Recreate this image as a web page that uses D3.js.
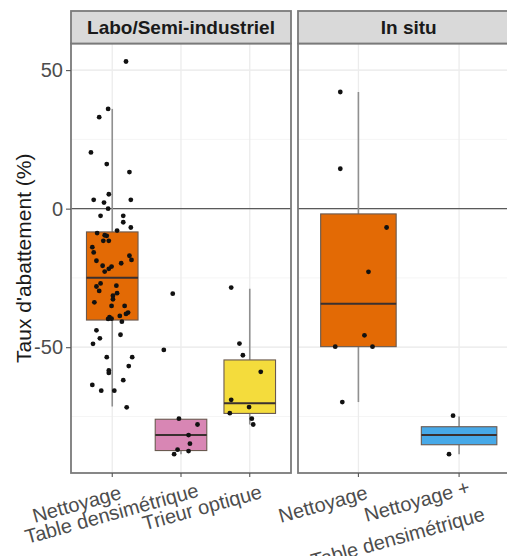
<!DOCTYPE html>
<html><head><meta charset="utf-8">
<script src="https://cdn.jsdelivr.net/npm/d3@7"></script>
<style>html,body{margin:0;padding:0;background:#fff;} svg{display:block;}</style>
</head><body>
<svg id="chart" width="507" height="556"></svg>
<script>
// ---------------- DATA ----------------
const panelNames = ["Labo/Semi-industriel", "In situ"];
const laboCategories = ["Nettoyage", "Table densimétrique", "Trieur optique"];
const inSituCategories = ["Nettoyage", "Nettoyage +\nTable densimétrique"];
const yTicks = [50, 0, -50];
const yMinorTicks = [25, -25, -75];
const yTitle = "Taux d'abattement (%)";

// box statistics (one entry per box)
const boxPanel      = [0, 0, 0, 1, 1];
const boxCategory   = ["Nettoyage", "Table densimétrique", "Trieur optique", "Nettoyage", "Nettoyage +\nTable densimétrique"];
const boxWhiskerLow = [-71.4, -88.6, -77.9, -69.8, -88.6];
const boxQ1         = [-40.2, -87.3, -73.9, -49.8, -85.2];
const boxMedian     = [-24.9, -81.7, -70.2, -34.3, -81.7];
const boxQ3         = [-8.4, -76.0, -54.6, -1.9, -78.7];
const boxWhiskerHigh= [36.0, -76.0, -28.9, 42.1, -75.0];

// individual (jittered) observations; jitter is in category units
const laboNettoyageValues = [53.1, 36.0, 33.0, 20.3, 16.1, 13.2, 5.2, 3.2, 3.2, 2.2, 0.0, -2.6, -2.6, -4.9, -6.8, -7.9, -8.8, -9.8, -9.6, -11.6, -11.6, -13.9, -15.8, -17.0, -18.5, -18.8, -19.7, -20.6, -20.9, -21.7, -22.7, -27.0, -28.1, -27.8, -29.7, -31.4, -30.5, -32.7, -33.8, -35.1, -35.1, -37.5, -38.0, -38.7, -39.2, -39.7, -39.8, -40.8, -43.9, -45.5, -46.8, -48.8, -53.6, -53.6, -56.8, -58.4, -59.3, -61.9, -63.6, -65.7, -65.7, -71.7];
const laboNettoyageJitter = [0.20, -0.06, -0.19, -0.31, -0.08, 0.25, -0.05, -0.27, 0.27, -0.12, -0.06, -0.17, 0.16, 0.16, 0.27, 0.07, -0.22, -0.08, -0.11, -0.13, -0.05, -0.29, -0.27, 0.25, 0.28, -0.23, 0.13, -0.14, -0.01, -0.05, -0.11, -0.17, -0.23, 0.06, -0.19, 0.01, 0.07, 0.01, -0.26, -0.01, 0.18, 0.23, 0.20, 0.11, -0.04, -0.01, -0.06, 0.14, -0.23, 0.12, -0.18, -0.28, -0.08, 0.29, 0.24, -0.05, -0.05, 0.16, -0.29, -0.16, 0.03, 0.21];
const laboTableValues = [-30.7, -51.0, -75.8, -77.9, -81.7, -84.8, -87.0, -87.5, -88.6];
const laboTableJitter = [-0.12, -0.25, -0.03, 0.24, 0.11, 0.13, -0.05, 0.11, -0.10];
const laboTrieurValues = [-28.5, -48.7, -52.9, -58.9, -69.0, -71.6, -73.8, -75.8, -77.9];
const laboTrieurJitter = [-0.27, -0.15, -0.10, 0.16, -0.27, -0.01, -0.29, 0.03, 0.05];
const inSituNettoyageValues = [42.1, 14.4, -6.8, -22.8, -45.7, -49.8, -49.8, -69.8];
const inSituNettoyageJitter = [-0.18, -0.18, 0.28, 0.10, 0.06, -0.23, 0.14, -0.16];
const inSituComboValues = [-74.7, -88.6];
const inSituComboJitter = [-0.06, -0.10];

// ---------------- STYLE / LAYOUT ----------------
const boxFills = ["#E36A05", "#D886B4", "#F4DC3C", "#E36A05", "#47A9E8"];
const font = "'Liberation Sans', Arial, sans-serif";
const stripTop = 11, plotTop = 43.5, plotBottom = 473;
const panelRanges = [[71, 291], [298, 519.5]];

const svg = d3.select("#chart");
const y = d3.scaleLinear().domain([-95.4, 59.6]).range([plotBottom, plotTop]);
const panelCats = [laboCategories, inSituCategories];
const xScales = panelCats.map((cats, i) =>
  d3.scalePoint().domain(cats).range(panelRanges[i]).padding(0.6));

const groups = [
  {panel: 0, cat: "Nettoyage", values: laboNettoyageValues, jitter: laboNettoyageJitter},
  {panel: 0, cat: "Table densimétrique", values: laboTableValues, jitter: laboTableJitter},
  {panel: 0, cat: "Trieur optique", values: laboTrieurValues, jitter: laboTrieurJitter},
  {panel: 1, cat: "Nettoyage", values: inSituNettoyageValues, jitter: inSituNettoyageJitter},
  {panel: 1, cat: "Nettoyage +\nTable densimétrique", values: inSituComboValues, jitter: inSituComboJitter}
];

panelNames.forEach((name, p) => {
  const [x0, x1] = panelRanges[p];
  const xs = xScales[p];
  const step = xs.step();
  const g = svg.append("g");
  g.append("rect").attr("x", x0).attr("y", plotTop).attr("width", x1 - x0)
    .attr("height", plotBottom - plotTop).attr("fill", "#fff");
  // minor grid
  g.selectAll(".minor").data(yMinorTicks).join("line")
    .attr("x1", x0).attr("x2", x1).attr("y1", d => y(d)).attr("y2", d => y(d))
    .attr("stroke", "#f3f3f3").attr("stroke-width", 0.8);
  // major grid
  g.selectAll(".major").data(yTicks).join("line")
    .attr("x1", x0).attr("x2", x1).attr("y1", d => y(d)).attr("y2", d => y(d))
    .attr("stroke", "#e8e8e8").attr("stroke-width", 1.3);
  g.selectAll(".vmajor").data(xs.domain()).join("line")
    .attr("x1", d => xs(d)).attr("x2", d => xs(d)).attr("y1", plotTop).attr("y2", plotBottom)
    .attr("stroke", "#ececec").attr("stroke-width", 1.3);
  // hline at 0
  g.append("line").attr("x1", x0).attr("x2", x1).attr("y1", y(0)).attr("y2", y(0))
    .attr("stroke", "#5a5a5a").attr("stroke-width", 1.4);

  // boxes
  boxPanel.forEach((bp, i) => {
    if (bp !== p) return;
    const cx = xs(boxCategory[i]);
    const bw = step * 0.75;
    g.append("line").attr("x1", cx).attr("x2", cx)
      .attr("y1", y(boxQ3[i])).attr("y2", y(boxWhiskerHigh[i]))
      .attr("stroke", "#909090").attr("stroke-width", 1.6);
    g.append("line").attr("x1", cx).attr("x2", cx)
      .attr("y1", y(boxQ1[i])).attr("y2", y(boxWhiskerLow[i]))
      .attr("stroke", "#909090").attr("stroke-width", 1.6);
    g.append("rect").attr("x", cx - bw / 2).attr("width", bw)
      .attr("y", y(boxQ3[i])).attr("height", y(boxQ1[i]) - y(boxQ3[i]))
      .attr("fill", boxFills[i]).attr("stroke", "#6a5a50").attr("stroke-width", 1.1);
    g.append("line").attr("x1", cx - bw / 2).attr("x2", cx + bw / 2)
      .attr("y1", y(boxMedian[i])).attr("y2", y(boxMedian[i]))
      .attr("stroke", "#3a3030").attr("stroke-width", 2);
  });

  // points
  groups.filter(gr => gr.panel === p).forEach(gr => {
    const cx = xs(gr.cat);
    g.selectAll(null).data(gr.values).join("circle")
      .attr("cx", (d, k) => cx + gr.jitter[k] * step)
      .attr("cy", d => y(d))
      .attr("r", 2.4).attr("fill", "#111");
  });

  // panel border
  g.append("rect").attr("x", x0).attr("y", plotTop).attr("width", x1 - x0)
    .attr("height", plotBottom - plotTop).attr("fill", "none")
    .attr("stroke", "#7a7a7a").attr("stroke-width", 1.8);
  // strip
  g.append("rect").attr("x", x0).attr("y", stripTop).attr("width", x1 - x0)
    .attr("height", plotTop - stripTop).attr("fill", "#d9d9d9")
    .attr("stroke", "#7a7a7a").attr("stroke-width", 1.8);
  g.append("text").attr("x", (x0 + x1) / 2).attr("y", (stripTop + plotTop) / 2)
    .attr("dy", "0.36em").attr("text-anchor", "middle")
    .attr("font-family", font).attr("font-weight", "bold").attr("font-size", 19)
    .attr("fill", "#1a1a1a").text(name);

  // x ticks
  g.selectAll(".xt").data(xs.domain()).join("line")
    .attr("x1", d => xs(d)).attr("x2", d => xs(d))
    .attr("y1", plotBottom).attr("y2", plotBottom + 4)
    .attr("stroke", "#555").attr("stroke-width", 1.1);
  // x labels (rotated, hjust ~0.9)
  xs.domain().forEach(cat => {
    const lines = cat.split("\n");
    const lh = 30;
    const shift = (lines.length - 1) * 5;
    const lg = g.append("g")
      .attr("transform", `translate(${xs(cat) + 1.5},${501 - shift}) rotate(-15.5)`);
    lines.forEach((ln, li) => {
      const t = lg.append("text").attr("y", li * lh)
        .attr("text-anchor", "end").attr("font-family", font).attr("font-size", 20)
        .attr("fill", "#4d4d4d").text(ln);
      const L = t.node().getComputedTextLength();
      t.attr("x", 0.1 * L);
    });
  });
});

// y axis
const yAxis = d3.axisLeft(y).tickValues(yTicks).tickSize(5).tickPadding(3)
  .tickFormat(d => String(d));
const ya = svg.append("g").attr("transform", `translate(${panelRanges[0][0]},0)`).call(yAxis);
ya.select(".domain").remove();
ya.selectAll(".tick line").attr("stroke", "#555").attr("stroke-width", 1.1);
ya.selectAll(".tick text").attr("font-family", font).attr("font-size", 20).attr("fill", "#4d4d4d");

svg.append("text")
  .attr("transform", `translate(31,${(plotTop + plotBottom) / 2}) rotate(-90)`)
  .attr("text-anchor", "middle").attr("font-family", font).attr("font-size", 21)
  .attr("fill", "#1a1a1a").text(yTitle);
</script>
</body></html>
